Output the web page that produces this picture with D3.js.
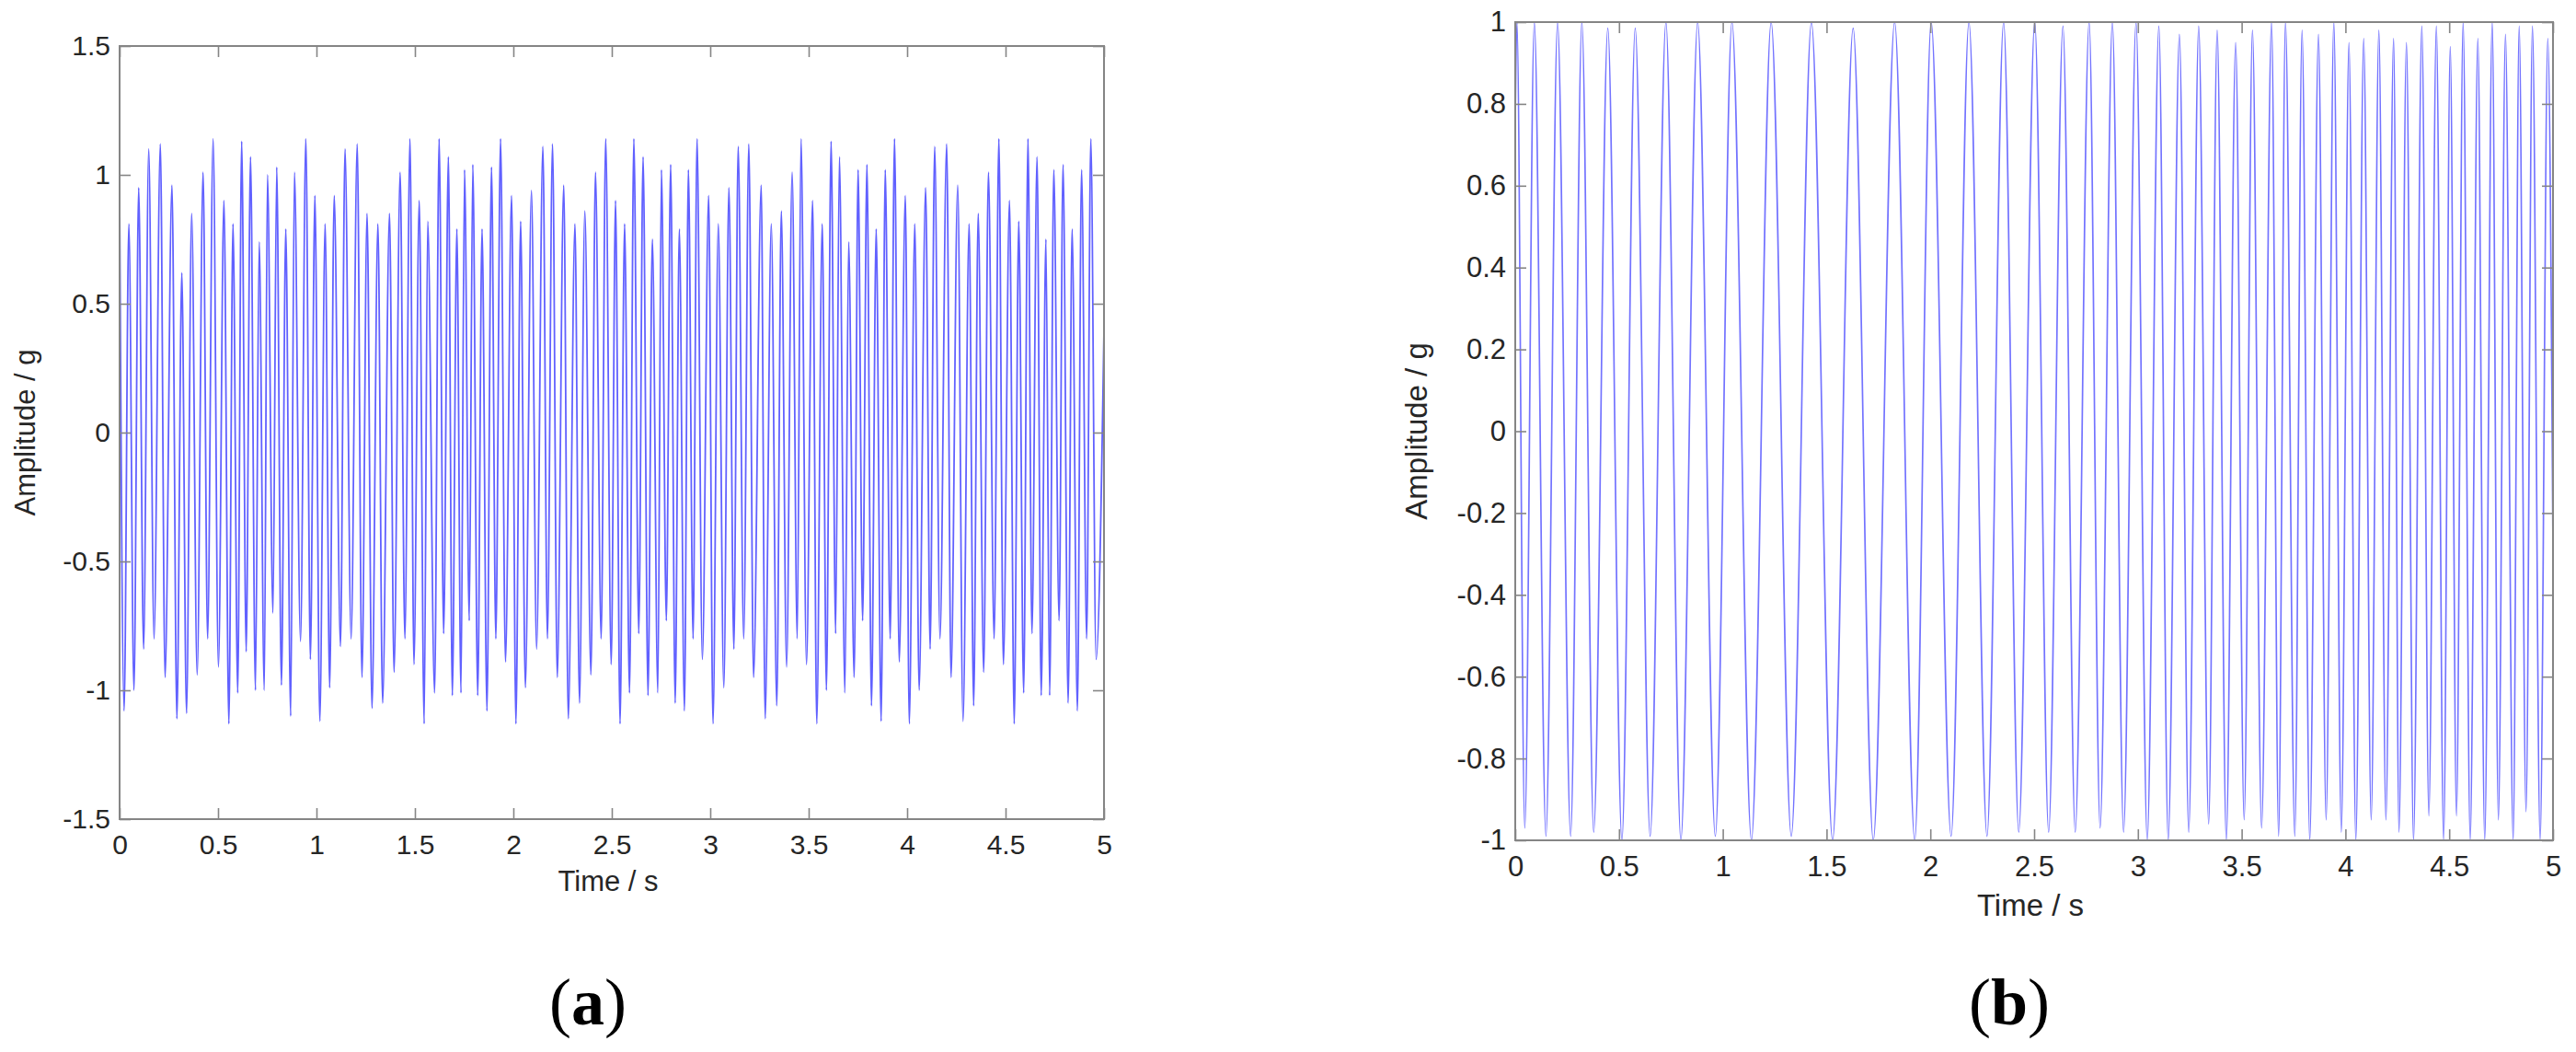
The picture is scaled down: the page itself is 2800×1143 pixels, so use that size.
<!DOCTYPE html>
<html>
<head>
<meta charset="utf-8">
<script src="https://cdn.jsdelivr.net/npm/d3@7"></script>
<style>
  html, body { margin: 0; padding: 0; background: #ffffff; }
  svg { display: block; }
</style>
</head>
<body>
<svg id="chart" width="2800" height="1143"></svg>
<script>
// ---------------- DATA ----------------
const xTickValues = [0, 0.5, 1, 1.5, 2, 2.5, 3, 3.5, 4, 4.5, 5];
const yTicksA = [-1.5, -1, -0.5, 0, 0.5, 1, 1.5];
const yTicksB = [-1, -0.8, -0.6, -0.4, -0.2, 0, 0.2, 0.4, 0.6, 0.8, 1];
const xLabel = "Time / s";
const yLabel = "Amplitude / g";
const panelTags = ["a", "b"];

// Panel (a): successive peaks / troughs of the signal (time in s, amplitude in g)
const timeA = [
  0.000,0.023,0.047,0.073,0.097,0.122,0.148,0.175,0.207,0.231,0.266,0.291,0.316,0.340,0.366,0.394,
  0.424,0.447,0.475,0.502,0.530,0.555,0.576,0.600,0.620,0.643,0.665,0.690,0.709,0.735,0.751,0.779,
  0.798,0.822,0.844,0.869,0.888,0.919,0.946,0.969,0.992,1.017,1.044,1.067,1.090,1.122,1.145,1.176,
  1.207,1.231,1.257,1.282,1.312,1.336,1.371,1.394,1.425,1.449,1.475,1.495,1.522,1.547,1.565,1.600,
  1.623,1.646,1.670,1.690,1.713,1.734,1.752,1.776,1.794,1.819,1.841,1.866,1.889,1.911,1.935,1.960,
  1.991,2.013,2.037,2.061,2.092,2.118,2.150,2.173,2.199,2.223,2.256,2.279,2.313,2.336,2.363,2.394,
  2.417,2.446,2.469,2.497,2.519,2.542,2.565,2.590,2.612,2.637,2.659,2.684,2.706,2.734,2.752,2.777,
  2.799,2.822,2.843,2.869,2.889,2.913,2.933,2.960,2.992,3.014,3.041,3.069,3.095,3.120,3.142,3.170,
  3.196,3.220,3.259,3.279,3.310,3.338,3.361,3.388,3.416,3.442,3.461,3.489,3.520,3.541,3.569,3.590,
  3.614,3.637,3.656,3.684,3.703,3.731,3.751,3.774,3.796,3.819,3.843,3.868,3.889,3.914,3.936,3.960,
  3.991,4.011,4.039,4.061,4.094,4.117,4.140,4.167,4.201,4.223,4.257,4.284,4.315,4.338,4.361,4.389,
  4.413,4.442,4.466,4.489,4.520,4.544,4.567,4.592,4.614,4.634,4.660,4.681,4.705,4.724,4.745,4.772,
  4.792,4.818,4.838,4.865,4.886,4.912,4.933,4.960,5.000
];
const ampA = [
  0.92,-1.08,0.81,-1.00,0.95,-0.84,1.10,-0.80,1.12,-0.95,0.96,-1.11,0.62,-1.09,0.85,-0.94,
  1.01,-0.80,1.14,-0.91,0.90,-1.13,0.81,-1.01,1.13,-0.85,1.07,-1.00,0.74,-1.00,1.00,-0.70,
  1.03,-0.98,0.79,-1.10,1.01,-0.81,1.14,-0.88,0.92,-1.12,0.81,-0.99,0.92,-0.83,1.10,-0.80,
  1.12,-0.95,0.85,-1.07,0.81,-1.05,0.85,-0.93,1.01,-0.80,1.14,-0.90,0.90,-1.13,0.82,-1.01,
  1.14,-0.78,1.07,-1.02,0.79,-1.01,1.02,-0.73,1.04,-1.02,0.79,-1.08,1.03,-0.80,1.14,-0.89,
  0.92,-1.13,0.82,-0.99,0.94,-0.84,1.11,-0.80,1.12,-0.95,0.96,-1.11,0.81,-1.05,0.86,-0.94,
  1.01,-0.80,1.14,-0.90,0.90,-1.13,0.81,-1.01,1.14,-0.78,1.07,-1.02,0.75,-1.01,1.02,-0.73,
  1.04,-1.05,0.79,-1.08,1.02,-0.80,1.14,-0.88,0.92,-1.13,0.81,-0.99,0.95,-0.84,1.11,-0.80,
  1.12,-0.95,0.96,-1.11,0.81,-1.06,0.86,-0.91,1.01,-0.80,1.14,-0.90,0.90,-1.13,0.81,-1.00,
  1.13,-0.78,1.07,-1.01,0.74,-0.95,1.02,-0.73,1.04,-1.06,0.79,-1.12,1.02,-0.80,1.14,-0.89,
  0.92,-1.13,0.81,-1.00,0.95,-0.84,1.11,-0.80,1.12,-0.95,0.96,-1.12,0.81,-1.06,0.85,-0.93,
  1.01,-0.80,1.14,-0.90,0.90,-1.13,0.82,-1.01,1.14,-0.78,1.07,-1.02,0.75,-1.02,1.02,-0.73,
  1.04,-1.05,0.79,-1.08,1.02,-0.80,1.14,-0.88,0.40
];

// Panel (b): successive peaks / troughs of the swept signal
const timeB = [
  0.000,0.008,0.046,0.092,0.148,0.204,0.267,0.321,0.378,0.446,0.514,0.578,0.650,0.726,0.798,0.879,
  0.964,1.044,1.138,1.233,1.330,1.427,1.529,1.628,1.725,1.828,1.925,2.004,2.100,2.186,2.273,2.353,
  2.426,2.503,2.570,2.639,2.698,2.765,2.818,2.877,2.931,2.991,3.045,3.101,3.146,3.200,3.245,3.293,
  3.341,3.382,3.426,3.471,3.512,3.552,3.596,3.644,3.678,3.711,3.756,3.791,3.828,3.870,3.907,3.944,
  3.980,4.017,4.050,4.088,4.124,4.161,4.195,4.232,4.258,4.294,4.328,4.368,4.402,4.438,4.473,4.505,
  4.535,4.567,4.601,4.638,4.671,4.707,4.737,4.771,4.808,4.837,4.870,4.901,4.938,4.975,5.000
];
const ampB = [
  0.76,1.00,-0.97,1.00,-0.99,1.00,-0.99,1.00,-0.98,0.985,-1.00,0.985,-0.99,1.00,-1.00,1.00,
  -0.99,1.00,-1.00,1.00,-0.99,1.00,-1.00,0.985,-1.00,1.00,-1.00,1.00,-0.99,1.00,-0.99,1.00,
  -0.98,1.00,-0.98,0.99,-0.98,1.00,-0.97,1.00,-0.98,1.00,-1.00,0.99,-1.00,0.97,-0.98,0.99,
  -0.96,0.98,-1.00,0.95,-0.95,0.98,-0.97,1.00,-0.99,1.00,-0.99,0.98,-1.00,0.97,-0.95,1.00,
  -0.98,0.95,-1.00,0.96,-0.95,0.98,-0.95,0.96,-0.98,0.95,-1.00,0.99,-0.94,0.99,-1.00,0.94,
  -0.94,1.00,-1.00,0.96,-1.00,1.00,-0.95,0.97,-1.00,0.99,-0.93,0.99,-1.00,0.96,-0.30
];

// ---------------- DRAWING ----------------
const svg = d3.select("#chart");
svg.append("rect").attr("width", 2800).attr("height", 1143).attr("fill", "#ffffff");

// plain hyphen-minus tick labels, as in the original figure
const plainFmt = d => String(Math.round(d * 10) / 10);

const panels = [
  {
    tag: panelTags[0], t: timeA, v: ampA, yDomain: [-1.5, 1.5], yTicks: yTicksA,
    left: 130, right: 1200, top: 50, bottom: 890,
    tickFont: 30, labelFont: 31, yLabelX: 38, xLabelY: 968,
    tagX: 639, tagY: 1113, lineOpacity: 0.62, lineWidth: 1.8
  },
  {
    tag: panelTags[1], t: timeB, v: ampB, yDomain: [-1, 1], yTicks: yTicksB,
    left: 1647, right: 2775, top: 24, bottom: 913,
    tickFont: 31, labelFont: 33, yLabelX: 1551, xLabelY: 995,
    tagX: 2184, tagY: 1113, lineOpacity: 0.55, lineWidth: 1.7
  }
];

const frameColor = "#858585";
const textColor = "#262626";

panels.forEach((p, i) => {
  const x = d3.scaleLinear().domain([0, 5]).range([p.left, p.right]);
  const y = d3.scaleLinear().domain(p.yDomain).range([p.bottom, p.top]);
  const g = svg.append("g");

  const clipId = "clip" + i;
  svg.append("clipPath").attr("id", clipId)
    .append("rect").attr("x", p.left).attr("y", p.top)
    .attr("width", p.right - p.left).attr("height", p.bottom - p.top);

  const pts = p.t.map((t, k) => [t, p.v[k]]);
  const line = d3.line().x(d => x(d[0])).y(d => y(d[1])).curve(d3.curveMonotoneX);
  g.append("path")
    .attr("clip-path", `url(#${clipId})`)
    .attr("d", line(pts))
    .attr("fill", "none")
    .attr("stroke", "#0000ff")
    .attr("stroke-opacity", p.lineOpacity)
    .attr("stroke-width", p.lineWidth)
    .attr("stroke-linejoin", "round");

  // axes with inward ticks on all four sides
  const axB = d3.axisBottom(x).tickValues(xTickValues).tickSize(-12).tickSizeOuter(0).tickPadding(17)
    .tickFormat(plainFmt);
  const axT = d3.axisTop(x).tickValues(xTickValues).tickSize(-12).tickSizeOuter(0).tickFormat("");
  const axL = d3.axisLeft(y).tickValues(p.yTicks).tickSize(-12).tickSizeOuter(0).tickPadding(10)
    .tickFormat(plainFmt);
  const axR = d3.axisRight(y).tickValues(p.yTicks).tickSize(-12).tickSizeOuter(0).tickFormat("");

  const styleAxis = sel => {
    sel.select(".domain").remove();
    sel.selectAll(".tick line").attr("stroke", frameColor).attr("stroke-width", 1.6);
    sel.selectAll(".tick text").attr("fill", textColor)
      .attr("font-family", "'Liberation Sans', Arial, sans-serif")
      .attr("font-size", p.tickFont);
  };
  g.append("g").attr("transform", `translate(0,${p.bottom})`).call(axB).call(styleAxis);
  g.append("g").attr("transform", `translate(0,${p.top})`).call(axT).call(styleAxis);
  g.append("g").attr("transform", `translate(${p.left},0)`).call(axL).call(styleAxis);
  g.append("g").attr("transform", `translate(${p.right},0)`).call(axR).call(styleAxis);

  g.append("rect")
    .attr("x", p.left).attr("y", p.top)
    .attr("width", p.right - p.left).attr("height", p.bottom - p.top)
    .attr("fill", "none").attr("stroke", frameColor).attr("stroke-width", 2);

  // axis labels
  g.append("text")
    .attr("x", (p.left + p.right) / 2 - 4).attr("y", p.xLabelY)
    .attr("text-anchor", "middle")
    .attr("font-family", "'Liberation Sans', Arial, sans-serif")
    .attr("font-size", p.labelFont).attr("fill", textColor)
    .text(xLabel);
  g.append("text")
    .attr("transform", `translate(${p.yLabelX},${(p.top + p.bottom) / 2}) rotate(-90)`)
    .attr("text-anchor", "middle")
    .attr("font-family", "'Liberation Sans', Arial, sans-serif")
    .attr("font-size", p.labelFont).attr("fill", textColor)
    .text(yLabel);

  // panel tag "(a)" / "(b)"
  const tg = g.append("text")
    .attr("x", p.tagX).attr("y", p.tagY)
    .attr("text-anchor", "middle")
    .attr("font-family", "'Liberation Serif', 'Times New Roman', serif")
    .attr("font-size", 72).attr("fill", "#000000");
  tg.append("tspan").text("(");
  tg.append("tspan").attr("font-weight", "bold").text(p.tag);
  tg.append("tspan").text(")");
});
</script>
</body>
</html>
